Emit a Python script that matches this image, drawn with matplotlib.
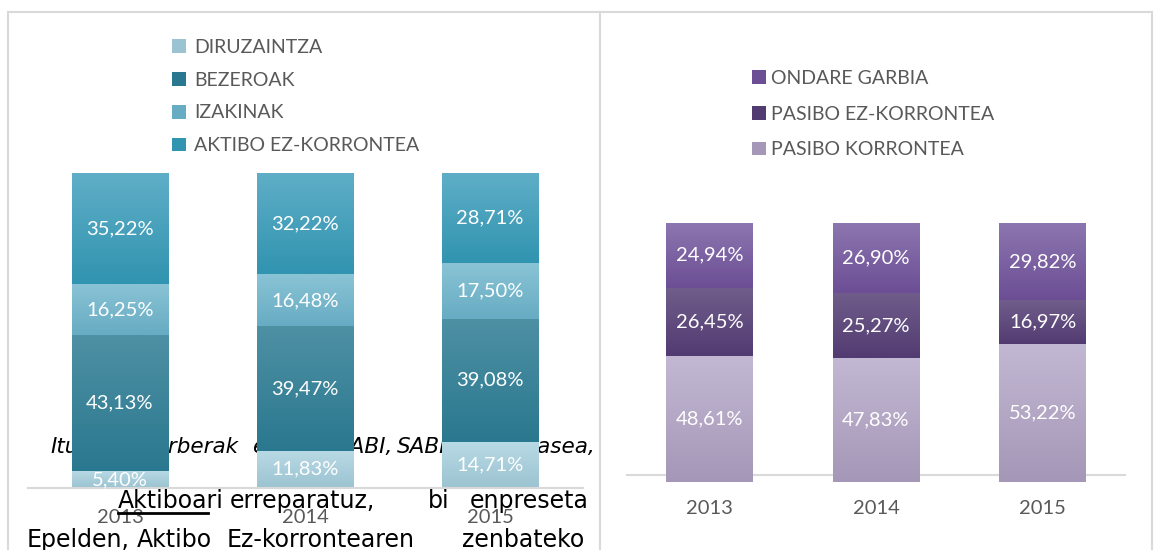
import numpy as np
import matplotlib.pyplot as plt
from matplotlib.colors import LinearSegmentedColormap
from matplotlib.patches import Rectangle, Patch
from matplotlib.lines import Line2D
from matplotlib.font_manager import FontProperties

plt.rcParams['font.family'] = ['Lato', 'DejaVu Sans']

years = ['2013', '2014', '2015']

# aktiboa, stack order bottom -> top
asset_names = ['DIRUZAINTZA', 'BEZEROAK', 'IZAKINAK', 'AKTIBO EZ-KORRONTEA']
diruzaintza = [5.40, 11.83, 14.71]
bezeroak = [43.13, 39.47, 39.08]
izakinak = [16.25, 16.48, 17.50]
aktibo_ez_korrontea = [35.22, 32.22, 28.71]

# pasiboa + ondarea, stack order bottom -> top
liab_names = ['PASIBO KORRONTEA', 'PASIBO EZ-KORRONTEA', 'ONDARE GARBIA']
pasibo_korrontea = [48.61, 47.83, 53.22]
pasibo_ez_korrontea = [26.45, 25.27, 16.97]
ondare_garbia = [24.94, 26.90, 29.82]

# (top, bottom) gradient colours
asset_colors = [('#b8dae5', '#9cc3d1'), ('#4e90a4', '#2a788f'),
                ('#8ac3d5', '#67acc3'), ('#5faec7', '#3194b0')]
liab_colors = [('#c2b8d3', '#a597b7'), ('#705d8b', '#523b71'),
               ('#8c76af', '#6c4e95')]

# document text lying round the charts (justified, so words are placed one by one)
caption_words = ['Iturria:', 'berberak', 'egina,', 'SABI,', 'SABI', 'datu-basea,']
caption_x = [50, 141, 252, 337, 397, 467]
line1_words = ['Aktiboari', 'erreparatuz,', 'bi', 'enpreseta']
line1_x = [118, 230, 428, 470]
line2_words = ['Epelden,', 'Aktibo', 'Ez-korrontearen', 'zenbateko']
line2_x = [27, 137, 227, 462]

W, H = 1154, 550
GRID = '#d9d9d9'
TXT = '#595959'
DOC_FONT = 'DejaVu Sans'
DOC_SIZE = 17


def fx(px):
    return px / W


def fy(py):
    return 1 - py / H


def pct(v):
    return f'{v:.2f}%'.replace('.', ',')


def stacked(ax, series, colors, pad):
    x = np.arange(len(years))
    bottom = np.zeros(len(years))
    for vals, (top, bot) in zip(series, colors):
        bars = ax.bar(x, vals, 0.52, bottom=bottom, color=bot, zorder=2)
        cmap = LinearSegmentedColormap.from_list('g', [bot, top])
        grad = np.linspace(0, 1, 64).reshape(-1, 1)
        for b in bars:
            ax.imshow(grad, cmap=cmap, origin='lower', aspect='auto',
                      interpolation='bilinear', zorder=2.1,
                      extent=[b.get_x(), b.get_x() + b.get_width(),
                              b.get_y(), b.get_y() + b.get_height()])
        ax.bar_label(bars, labels=[pct(v) for v in vals], label_type='center',
                     color='white', fontsize=14.5)
        bottom += np.array(vals)
    ax.set_xlim(-0.5, len(years) - 0.5)
    ax.set_ylim(0, 100)
    ax.set_xticks(x)
    ax.set_xticklabels(years, color=TXT, fontsize=14.5)
    ax.tick_params(length=0, pad=pad)
    ax.set_yticks([])
    for s in ['top', 'left', 'right']:
        ax.spines[s].set_visible(False)
    ax.set_facecolor('none')


fig = plt.figure(figsize=(W / 100, H / 100), dpi=100)
fig.patch.set_facecolor('white')

# caption sits under the left chart
for w, x in zip(caption_words, caption_x):
    fig.text(fx(x), fy(453), w, fontsize=15.5, family=DOC_FONT, style='italic',
             color='black', va='baseline', zorder=-1)

# left chart: aktiboa
ax_l = fig.add_axes([fx(27.5), fy(488), fx(555), 315 / H])
ax_l.set_zorder(0)
stacked(ax_l, [diruzaintza, bezeroak, izakinak, aktibo_ez_korrontea], asset_colors, 15)
ax_l.spines['bottom'].set_color(GRID)
ax_l.spines['bottom'].set_linewidth(1.5)

handles = [Patch(facecolor=c[1], edgecolor='none') for c in asset_colors]
fig.legend(handles, asset_names, loc='upper left',
           bbox_to_anchor=(fx(172), fy(39)), frameon=False, fontsize=14,
           labelcolor=TXT, handlelength=0.7, handleheight=0.7,
           handletextpad=0.45, labelspacing=0.81, borderpad=0, borderaxespad=0)

# body text over the left chart
for w, x in zip(line1_words, line1_x):
    fig.text(fx(x), fy(508), w, fontsize=DOC_SIZE, family=DOC_FONT, color='black',
             va='baseline', zorder=1)
for w, x in zip(line2_words, line2_x):
    fig.text(fx(x), fy(547), w, fontsize=DOC_SIZE, family=DOC_FONT, color='black',
             va='baseline', zorder=1)

# only "Aktiboa" of the first word is underlined
renderer = fig.canvas.get_renderer()
uw, _, _ = renderer.get_text_width_height_descent(
    'Aktiboa', FontProperties(family=DOC_FONT, size=DOC_SIZE), ismath=False)
fig.add_artist(Line2D([fx(line1_x[0]), fx(line1_x[0] + uw)], [fy(513), fy(513)],
                      color='black', lw=2, transform=fig.transFigure, zorder=1))

# chart frames
fig.add_artist(Rectangle((fx(7.5), -0.1), fx(592.5), fy(12.5) + 0.1, transform=fig.transFigure,
                         facecolor='none', edgecolor=GRID, lw=1.5, zorder=1.5))
fig.add_artist(Rectangle((fx(600), -0.1), fx(552), fy(12.5) + 0.1, transform=fig.transFigure,
                         facecolor='white', edgecolor=GRID, lw=1.5, zorder=2))

# right chart: pasiboa + ondarea
ax_r = fig.add_axes([fx(626), fy(482), fx(500), 259 / H])
ax_r.set_zorder(3)
stacked(ax_r, [pasibo_korrontea, pasibo_ez_korrontea, ondare_garbia], liab_colors, 13)
ax_r.spines['bottom'].set_visible(False)
ax_r.axhline(2.7, color=GRID, lw=1.5, zorder=1)

handles = [Patch(facecolor=c[1], edgecolor='none') for c in liab_colors[::-1]]
leg = fig.legend(handles, liab_names[::-1], loc='upper left',
                 bbox_to_anchor=(fx(752), fy(70)), frameon=False, fontsize=14,
                 labelcolor=TXT, handlelength=0.7, handleheight=0.7,
                 handletextpad=0.3, labelspacing=0.96, borderpad=0, borderaxespad=0)
leg.set_zorder(5)

fig.savefig('out.png', dpi=100)
